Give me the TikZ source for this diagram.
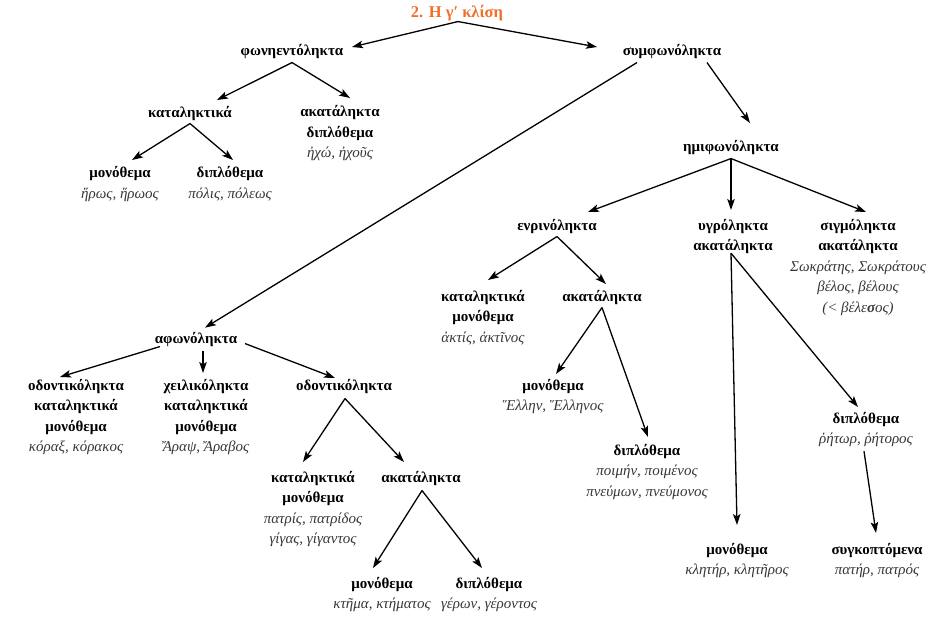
\documentclass[tikz,border=0pt]{standalone}
\usepackage{fontspec}
\setmainfont{Liberation Serif}
\usetikzlibrary{arrows.meta,calc}
\definecolor{orng}{RGB}{240,110,40}
\definecolor{exgray}{RGB}{55,55,55}
\newcommand{\exw}[1]{{\mdseries\itshape\color{exgray}#1}}
\begin{document}
\begin{tikzpicture}[x=1pt,y=-1pt,
  lbl/.style={anchor=north,yshift=14.35pt,align=center,inner sep=0pt,
    font=\fontsize{15}{20.5}\selectfont\bfseries,execute at begin node=\strut},
  arr/.style={-{Stealth[length=11pt,width=7.5pt,inset=2.5pt]},line width=1.3pt}]
\useasboundingbox (0,0) rectangle (939,626);
% nodes
\node[lbl,text=orng,font=\fontsize{16.5}{20.5}\selectfont\bfseries] (title) at (457,17) {2. Η γ′ κλίση};
\node[lbl] (phon) at (292,55) {φωνηεντόληκτα};
\node[lbl] (symf) at (672,55) {συμφωνόληκτα};
\node[lbl] (kat1) at (190,117) {καταληκτικά};
\node[lbl] (akat1) at (340,120) {ακατάληκτα\\διπλόθεμα\\\exw{ἠχώ, ἠχοῦς}};
\node[lbl] (mono1) at (120,181) {μονόθεμα\\\exw{ἥρως, ἥρωος}};
\node[lbl] (dipl1) at (230,181) {διπλόθεμα\\\exw{πόλις, πόλεως}};
\node[lbl] (hemi) at (731,151) {ημιφωνόληκτα};
\node[lbl] (enri) at (557,230) {ενρινόληκτα};
\node[lbl] (ygro) at (733,233) {υγρόληκτα\\ακατάληκτα};
\node[lbl] (sigm) at (858,233) {σιγμόληκτα\\ακατάληκτα\\\exw{Σωκράτης, Σωκράτους}\\\exw{βέλος, βέλους}\\\exw{(< βέλε{\bfseries σ}ος)}};
\node[lbl] (kat2) at (483,304) {καταληκτικά\\μονόθεμα\\\exw{ἀκτίς, ἀκτῖνος}};
\node[lbl] (akat2) at (602,301) {ακατάληκτα};
\node[lbl] (mono2) at (553,393) {μονόθεμα\\\exw{Ἕλλην, Ἕλληνος}};
\node[lbl] (dipl2) at (647,458) {διπλόθεμα\\\exw{ποιμήν, ποιμένος}\\\exw{πνεύμων, πνεύμονος}};
\node[lbl] (mono3) at (737,557) {μονόθεμα\\\exw{κλητήρ, κλητῆρος}};
\node[lbl] (dipl3) at (866,426) {διπλόθεμα\\\exw{ῥήτωρ, ῥήτορος}};
\node[lbl] (synk) at (877,557) {συγκοπτόμενα\\\exw{πατήρ, πατρός}};
\node[lbl] (afon) at (196,343) {αφωνόληκτα};
\node[lbl] (odon1) at (76,393) {οδοντικόληκτα\\καταληκτικά\\μονόθεμα\\\exw{κόραξ, κόρακος}};
\node[lbl] (cheil) at (206,393) {χειλικόληκτα\\καταληκτικά\\μονόθεμα\\\exw{Ἄραψ, Ἄραβος}};
\node[lbl] (odon2) at (344,390) {οδοντικόληκτα};
\node[lbl] (kat3) at (313,485) {καταληκτικά\\μονόθεμα\\\exw{πατρίς, πατρίδος}\\\exw{γίγας, γίγαντος}};
\node[lbl] (akat3) at (421,482) {ακατάληκτα};
\node[lbl] (mono4) at (382,591) {μονόθεμα\\\exw{κτῆμα, κτήματος}};
\node[lbl] (dipl4) at (489,591) {διπλόθεμα\\\exw{γέρων, γέροντος}};
% connectors (start from parent.south, end at child.north)
\draw[arr] ($(title.south)+(1,-2)$) -- ($(phon.north)+(60,6.35)$);
\draw[arr] ($(title.south)+(1,-2)$) -- ($(symf.north)+(-75,6.35)$);
\draw[arr] ($(phon.south)+(0,1)$) -- ($(kat1.north)+(27,-2.65)$);
\draw[arr] ($(phon.south)+(0,1)$) -- ($(akat1.north)+(10,-7.65)$);
\draw[arr] ($(kat1.south)+(0,0)$) -- ($(mono1.north)+(12,-6.65)$);
\draw[arr] ($(kat1.south)+(0,0)$) -- ($(dipl1.north)+(3,-6.65)$);
\draw[arr] ($(symf.south)+(-35,1)$) -- ($(afon.north)+(9,-1)$);
\draw[arr] ($(symf.south)+(35,1)$) -- ($(hemi.north)+(19,-13.65)$);
\draw[arr] ($(hemi.south)+(0,1)$) -- ($(enri.north)+(31,-3.65)$);
\draw[arr] ($(hemi.south)+(0,1)$) -- ($(ygro.north)+(-2,-8.65)$);
\draw[arr] ($(hemi.south)+(0,1)$) -- ($(sigm.north)+(8,-6.65)$);
\draw[arr] ($(enri.south)+(0,0)$) -- ($(kat2.north)+(5,-9.65)$);
\draw[arr] ($(enri.south)+(0,0)$) -- ($(akat2.north)+(4,-2.65)$);
\draw[arr] ($(akat2.south)+(0,0)$) -- ($(mono2.north)+(3,-4.65)$);
\draw[arr] ($(akat2.south)+(0,0)$) -- ($(dipl2.north)+(1,-6.65)$);
\draw[arr] ($(ygro.south)+(-2,-3.65)$) -- ($(mono3.north)+(0,-17.65)$);
\draw[arr] ($(ygro.south)+(-2,-3.65)$) -- ($(dipl3.north)+(-8,-4.65)$);
\draw[arr] ($(dipl3.south)+(-2,1.35)$) -- ($(synk.north)+(-1,-9.65)$);
\draw[arr] ($(afon.south)+(-36,-3)$) -- ($(odon1.north)+(-16,-1.65)$);
\draw[arr] ($(afon.south)+(7,1)$) -- ($(cheil.north)+(-3,-5.65)$);
\draw[arr] ($(afon.south)+(49,-6)$) -- ($(odon2.north)+(-9,2.35)$);
\draw[arr] ($(odon2.south)+(1,2)$) -- ($(kat3.north)+(-10,-8.65)$);
\draw[arr] ($(odon2.south)+(1,2)$) -- ($(akat3.north)+(-17,-5.65)$);
\draw[arr] ($(akat3.south)+(1,2)$) -- ($(mono4.north)+(-9,-8.65)$);
\draw[arr] ($(akat3.south)+(1,2)$) -- ($(dipl4.north)+(-7,-8.65)$);
\end{tikzpicture}
\end{document}
